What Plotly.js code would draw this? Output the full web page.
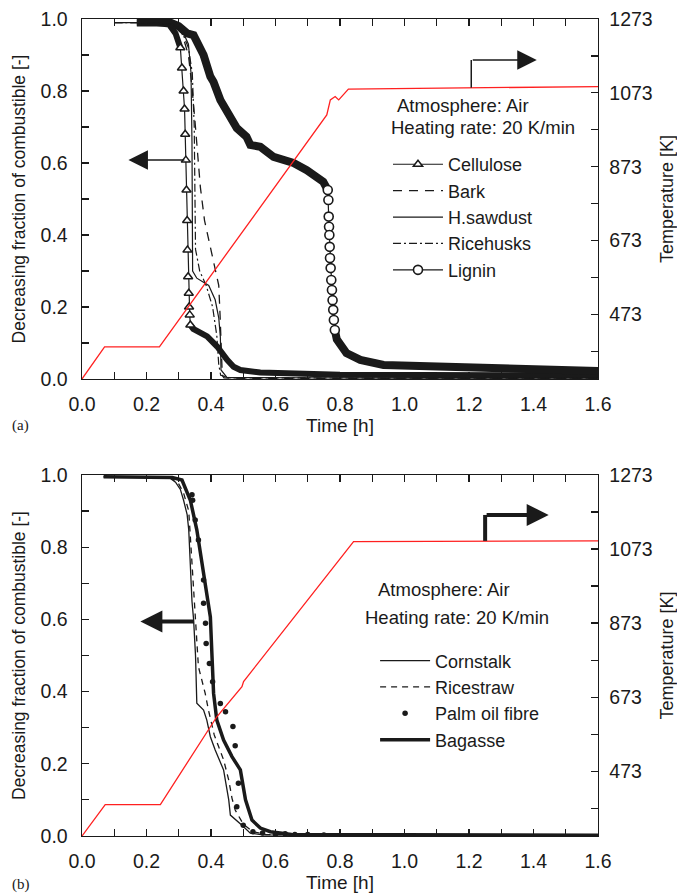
<!DOCTYPE html>
<html><head><meta charset="utf-8">
<script src="https://cdn.plot.ly/plotly-3.0.1.min.js"></script>
<style>html,body{margin:0;padding:0;background:#fff}</style>
</head><body><div id="chart" style="width:677px;height:895px"></div>
<script>
// ---------- Panel (a) data ----------
const redTimeA = [0, 0.07, 0.24, 0.759, 0.77, 0.785, 0.796, 0.806, 0.826, 1.6];
const redTempA = [298, 385, 385, 1013, 1054, 1063, 1054, 1063, 1083, 1090];

const celluloseX = [0.17, 0.22, 0.27, 0.29, 0.305, 0.31, 0.315, 0.318, 0.32, 0.322, 0.324, 0.326, 0.327, 0.329, 0.331, 0.332, 0.334, 0.336, 0.345, 0.388, 0.419, 0.45, 0.47, 0.491, 0.553, 0.8, 1.0, 1.2, 1.4, 1.6];
const celluloseY = [0.99, 0.99, 0.985, 0.96, 0.92, 0.864, 0.8, 0.75, 0.68, 0.608, 0.525, 0.44, 0.358, 0.284, 0.238, 0.2, 0.178, 0.15, 0.139, 0.118, 0.09, 0.053, 0.034, 0.025, 0.018, 0.012, 0.01, 0.01, 0.01, 0.01];

const barkX = [0.1, 0.2, 0.28, 0.31, 0.33, 0.34, 0.35, 0.357, 0.367, 0.38, 0.40, 0.415, 0.424, 0.428, 0.431, 0.435, 0.44, 0.5, 1.0, 1.6];
const barkY = [0.99, 0.99, 0.985, 0.96, 0.9, 0.82, 0.72, 0.64, 0.533, 0.44, 0.36, 0.3, 0.26, 0.18, 0.08, 0.01, 0.003, 0.002, 0.002, 0.002];

const sawdustX = [0.1, 0.2, 0.28, 0.31, 0.33, 0.338, 0.341, 0.342, 0.343, 0.356, 0.393, 0.413, 0.424, 0.429, 0.431, 0.45, 1.0, 1.6];
const sawdustY = [0.99, 0.99, 0.985, 0.97, 0.93, 0.85, 0.66, 0.45, 0.3, 0.28, 0.26, 0.22, 0.17, 0.117, 0.025, 0.004, 0.002, 0.002];

const ricehusksX = [0.1, 0.2, 0.28, 0.31, 0.33, 0.342, 0.348, 0.35, 0.352, 0.365, 0.385, 0.405, 0.418, 0.424, 0.43, 0.46, 1.0, 1.6];
const ricehusksY = [0.99, 0.99, 0.985, 0.965, 0.92, 0.85, 0.7, 0.5, 0.36, 0.3, 0.26, 0.2, 0.12, 0.04, 0.01, 0.003, 0.002, 0.002];

const ligninX = [0.17, 0.22, 0.274, 0.3, 0.326, 0.346, 0.367, 0.377, 0.398, 0.408, 0.429, 0.439, 0.47, 0.48, 0.51, 0.522, 0.553, 0.594, 0.656, 0.697, 0.748, 0.762, 0.764, 0.765, 0.766, 0.767, 0.768, 0.769, 0.771, 0.773, 0.775, 0.777, 0.779, 0.781, 0.784, 0.79, 0.82, 0.863, 0.935, 1.09, 1.3, 1.6];
const ligninY = [0.99, 0.99, 0.99, 0.98, 0.96, 0.955, 0.914, 0.9, 0.84, 0.825, 0.775, 0.76, 0.71, 0.697, 0.673, 0.65, 0.645, 0.617, 0.6, 0.58, 0.548, 0.525, 0.497, 0.451, 0.423, 0.4, 0.367, 0.336, 0.308, 0.275, 0.247, 0.219, 0.192, 0.164, 0.136, 0.11, 0.072, 0.053, 0.039, 0.034, 0.027, 0.022];

// ---------- Panel (b) data ----------
const redTimeB = [0, 0.072, 0.243, 0.418, 0.496, 0.501, 0.842, 1.6];
const redTempB = [298, 383, 383, 620, 701, 715, 1093, 1095];

const cornstalkX = [0.067, 0.2, 0.27, 0.29, 0.305, 0.315, 0.326, 0.331, 0.336, 0.341, 0.346, 0.352, 0.356, 0.377, 0.387, 0.398, 0.413, 0.439, 0.455, 0.46, 0.496, 0.522, 0.56, 0.8, 1.6];
const cornstalkY = [0.995, 0.995, 0.993, 0.98, 0.96, 0.93, 0.89, 0.848, 0.737, 0.65, 0.6, 0.5, 0.368, 0.349, 0.321, 0.275, 0.238, 0.183, 0.1, 0.058, 0.03, 0.008, 0.003, 0.002, 0.002];

const ricestrawX = [0.067, 0.2, 0.275, 0.3, 0.315, 0.331, 0.341, 0.352, 0.361, 0.382, 0.392, 0.41, 0.439, 0.455, 0.465, 0.475, 0.5, 0.53, 0.57, 1.6];
const ricestrawY = [0.995, 0.995, 0.993, 0.975, 0.95, 0.9, 0.75, 0.607, 0.469, 0.395, 0.349, 0.28, 0.211, 0.155, 0.105, 0.072, 0.033, 0.012, 0.004, 0.002];

const palmX = [0.341, 0.343, 0.351, 0.361, 0.377, 0.377, 0.383, 0.385, 0.395, 0.405, 0.429, 0.445, 0.468, 0.475, 0.485, 0.48, 0.5, 0.53, 0.56, 0.6, 0.63, 0.66, 0.7, 0.75];
const palmY = [0.945, 0.93, 0.875, 0.82, 0.709, 0.645, 0.589, 0.533, 0.478, 0.427, 0.367, 0.344, 0.303, 0.25, 0.146, 0.081, 0.03, 0.012, 0.008, 0.005, 0.006, 0.004, 0.004, 0.003];

const bagasseX = [0.067, 0.2, 0.28, 0.31, 0.336, 0.356, 0.371, 0.387, 0.398, 0.403, 0.408, 0.418, 0.439, 0.465, 0.491, 0.507, 0.527, 0.553, 0.584, 0.65, 1.6];
const bagasseY = [0.995, 0.995, 0.993, 0.986, 0.93, 0.848, 0.756, 0.663, 0.607, 0.5, 0.395, 0.321, 0.266, 0.22, 0.183, 0.1, 0.044, 0.022, 0.012, 0.004, 0.002];

// tick labels
const timeTicks = [0, 0.2, 0.4, 0.6, 0.8, 1.0, 1.2, 1.4, 1.6];
const fracTicks = [0, 0.2, 0.4, 0.6, 0.8, 1.0];
const tempTicks = [473, 673, 873, 1073, 1273];
const tempMinor = [373, 573, 773, 973, 1173];

// ---------- helpers ----------
const FONT = 'Liberation Sans, Arial, Helvetica, sans-serif';
const INK = '#1a1a1a';
function splitBand(xs, ys, lo, hi) {
  const bx = [], by = [], sx = [], sy = [];
  let gapAdded = false;
  xs.forEach((x, i) => {
    if (x >= lo && x <= hi) { sx.push(x); sy.push(ys[i]); }
    if (x <= lo || x >= hi) {
      if (x >= hi && !gapAdded) { bx.push(null); by.push(null); gapAdded = true; }
      bx.push(x); by.push(ys[i]);
    }
  });
  return { bx, by, sx, sy };
}
const cel = splitBand(celluloseX, celluloseY, 0.305, 0.336);
const lig = splitBand(ligninX, ligninY, 0.762, 0.784);

const traces = [
  // panel a
  { x: cel.bx, y: cel.by, xaxis: 'x', yaxis: 'y', mode: 'lines', line: { color: INK, width: 6 }, showlegend: false, hoverinfo: 'skip' },
  { x: lig.bx, y: lig.by, xaxis: 'x', yaxis: 'y', mode: 'lines', line: { color: INK, width: 8 }, showlegend: false, hoverinfo: 'skip' },
  { x: cel.sx, y: cel.sy, name: 'Cellulose', xaxis: 'x', yaxis: 'y', mode: 'lines+markers', legend: 'legend', legendgroup: 'a1',
    line: { color: INK, width: 1.2 }, marker: { symbol: 'triangle-up', size: 8, color: 'white', line: { color: INK, width: 1.5 } } },
  { x: barkX, y: barkY, name: 'Bark', xaxis: 'x', yaxis: 'y', mode: 'lines', legend: 'legend', legendgroup: 'a2',
    line: { color: INK, width: 1.3, dash: '9px,7px' } },
  { x: sawdustX, y: sawdustY, name: 'H.sawdust', xaxis: 'x', yaxis: 'y', mode: 'lines', legend: 'legend', legendgroup: 'a3',
    line: { color: INK, width: 1.2 } },
  { x: ricehusksX, y: ricehusksY, name: 'Ricehusks', xaxis: 'x', yaxis: 'y', mode: 'lines', legend: 'legend', legendgroup: 'a4',
    line: { color: INK, width: 1.2, dash: '8px,3px,2px,3px' } },
  { x: lig.sx, y: lig.sy, name: 'Lignin', xaxis: 'x', yaxis: 'y', mode: 'lines+markers', legend: 'legend', legendgroup: 'a5',
    line: { color: INK, width: 1.2 }, marker: { symbol: 'circle', size: 9, color: 'white', line: { color: INK, width: 1.6 } } },
  { x: redTimeA, y: redTempA, xaxis: 'x', yaxis: 'y2', mode: 'lines', line: { color: '#ff2020', width: 1.3 }, showlegend: false },
  // panel b
  { x: cornstalkX, y: cornstalkY, name: 'Cornstalk', xaxis: 'x2', yaxis: 'y3', mode: 'lines', legend: 'legend2', legendgroup: 'b1',
    line: { color: INK, width: 1.3 } },
  { x: ricestrawX, y: ricestrawY, name: 'Ricestraw', xaxis: 'x2', yaxis: 'y3', mode: 'lines', legend: 'legend2', legendgroup: 'b2',
    line: { color: INK, width: 1.3, dash: '6px,5px' } },
  { x: palmX, y: palmY, name: 'Palm oil fibre', xaxis: 'x2', yaxis: 'y3', mode: 'markers', legend: 'legend2', legendgroup: 'b3',
    marker: { symbol: 'circle', size: 5.5, color: INK } },
  { x: bagasseX, y: bagasseY, name: 'Bagasse', xaxis: 'x2', yaxis: 'y3', mode: 'lines', legend: 'legend2', legendgroup: 'b4',
    line: { color: INK, width: 3.5 } },
  { x: redTimeB, y: redTempB, xaxis: 'x2', yaxis: 'y4', mode: 'lines', line: { color: '#ff2020', width: 1.3 }, showlegend: false }
];

function xAxis(anchor) {
  return {
    anchor: anchor, domain: [0, 1], range: [0, 1.6], tickmode: 'array', tickvals: timeTicks,
    ticktext: timeTicks.map(v => v.toFixed(1)),
    ticks: 'inside', ticklen: 7, tickwidth: 1.2, tickcolor: INK,
    minor: { ticks: 'inside', dtick: 0.1, tick0: 0, ticklen: 7, tickwidth: 1.2, tickcolor: INK },
    showline: true, linewidth: 1.4, linecolor: INK, mirror: 'ticks',
    showgrid: false, zeroline: false, ticklabelstandoff: 7,
    tickfont: { size: 19.5, family: FONT, color: INK },
    title: { text: 'Time [h]', font: { size: 19, family: FONT, color: INK }, standoff: 4 }
  };
}
function yLeft(anchor, domain) {
  return {
    anchor: anchor, domain: domain, range: [0, 1], tickmode: 'array', tickvals: fracTicks,
    ticktext: fracTicks.map(v => v.toFixed(1)),
    ticks: 'inside', ticklen: 7, tickwidth: 1.2, tickcolor: INK,
    minor: { ticks: 'inside', dtick: 0.1, tick0: 0, ticklen: 7, tickwidth: 1.2, tickcolor: INK },
    showline: true, linewidth: 1.4, linecolor: INK, mirror: false,
    showgrid: false, zeroline: false, ticklabelstandoff: 9,
    tickfont: { size: 19.5, family: FONT, color: INK },
    title: { text: 'Decreasing fraction of combustible [-]', font: { size: 17.5, family: FONT, color: INK }, standoff: 10 }
  };
}
function yRight(anchor, over) {
  return {
    anchor: anchor, overlaying: over, side: 'right', range: [298, 1273],
    tickmode: 'array', tickvals: tempTicks, ticktext: tempTicks.map(String),
    ticks: 'inside', ticklen: 7, tickwidth: 1.2, tickcolor: INK,
    minor: { ticks: 'inside', tickmode: 'array', tickvals: tempMinor, ticklen: 7, tickwidth: 1.2, tickcolor: INK },
    showline: true, linewidth: 1.4, linecolor: INK,
    showgrid: false, zeroline: false, ticklabelstandoff: 6,
    tickfont: { size: 19.5, family: FONT, color: INK },
    title: { text: 'Temperature [K]', font: { size: 18, family: FONT, color: INK }, standoff: 8 }
  };
}

const legendStyle = {
  xanchor: 'left', yanchor: 'top', bgcolor: 'rgba(0,0,0,0)', borderwidth: 0,
  font: { size: 18, family: FONT, color: INK }, itemwidth: 50, tracegroupgap: 4, traceorder: 'normal'
};

const annFont = { size: 18.5, family: FONT, color: INK };
const serif = { size: 15, family: 'Liberation Serif, Times New Roman, serif', color: INK };
const layout = {
  width: 677, height: 895, paper_bgcolor: 'white', plot_bgcolor: 'rgba(0,0,0,0)',
  margin: { l: 82, r: 79, t: 19, b: 59 },
  font: { family: FONT, size: 18, color: INK },
  xaxis: xAxis('y'),
  yaxis: yLeft('x', [0.5594, 1]),
  yaxis2: yRight('x', 'y'),
  xaxis2: xAxis('y3'),
  yaxis3: yLeft('x2', [0, 0.4419]),
  yaxis4: yRight('x2', 'y3'),
  legend: Object.assign({ x: 0.593, y: 0.8445 }, legendStyle),
  legend2: Object.assign({ x: 0.568, y: 0.237 }, legendStyle),
  shapes: [
    { type: 'line', xref: 'x', yref: 'y2', x0: 1.207, x1: 1.207, y0: 1087, y1: 1162, line: { color: INK, width: 1.5 } },
    { type: 'line', xref: 'x2', yref: 'y4', x0: 1.25, x1: 1.25, y0: 1095, y1: 1165, line: { color: INK, width: 4 } }
  ],
  annotations: [
    { xref: 'paper', yref: 'paper', x: 0.738, y: 0.8947, xanchor: 'center', yanchor: 'middle', text: 'Atmosphere: Air', showarrow: false, font: annFont },
    { xref: 'paper', yref: 'paper', x: 0.777, y: 0.8666, xanchor: 'center', yanchor: 'middle', text: 'Heating rate: 20 K/min', showarrow: false, font: annFont },
    { xref: 'paper', yref: 'paper', x: 0.7016, y: 0.3023, xanchor: 'center', yanchor: 'middle', text: 'Atmosphere: Air', showarrow: false, font: annFont },
    { xref: 'paper', yref: 'paper', x: 0.7267, y: 0.268, xanchor: 'center', yanchor: 'middle', text: 'Heating rate: 20 K/min', showarrow: false, font: annFont },
    // arrows
    { xref: 'x', yref: 'y', axref: 'x', ayref: 'y', x: 0.144, y: 0.608, ax: 0.322, ay: 0.608, text: '', showarrow: true,
      arrowhead: 2, arrowsize: 2.6, arrowwidth: 1.5, arrowcolor: INK },
    { xref: 'x', yref: 'y2', axref: 'x', ayref: 'y2', x: 1.41, y: 1162, ax: 1.207, ay: 1162, text: '', showarrow: true,
      arrowhead: 2, arrowsize: 2.6, arrowwidth: 1.5, arrowcolor: INK },
    { xref: 'x2', yref: 'y3', axref: 'x2', ayref: 'y3', x: 0.181, y: 0.594, ax: 0.352, ay: 0.594, text: '', showarrow: true,
      arrowhead: 2, arrowsize: 1.1, arrowwidth: 4, arrowcolor: INK },
    { xref: 'x2', yref: 'y4', axref: 'x2', ayref: 'y4', x: 1.447, y: 1165, ax: 1.25, ay: 1165, text: '', showarrow: true,
      arrowhead: 2, arrowsize: 1.1, arrowwidth: 4, arrowcolor: INK },
    // panel labels
    { xref: 'paper', yref: 'paper', x: -0.14, y: 0.503, xanchor: 'left', yanchor: 'middle', text: '(a)', showarrow: false, font: serif },
    { xref: 'paper', yref: 'paper', x: -0.14, y: -0.0588, xanchor: 'left', yanchor: 'middle', text: '(b)', showarrow: false, font: serif }
  ]
};

Plotly.newPlot('chart', traces, layout, { staticPlot: true, displayModeBar: false });
</script></body></html>
